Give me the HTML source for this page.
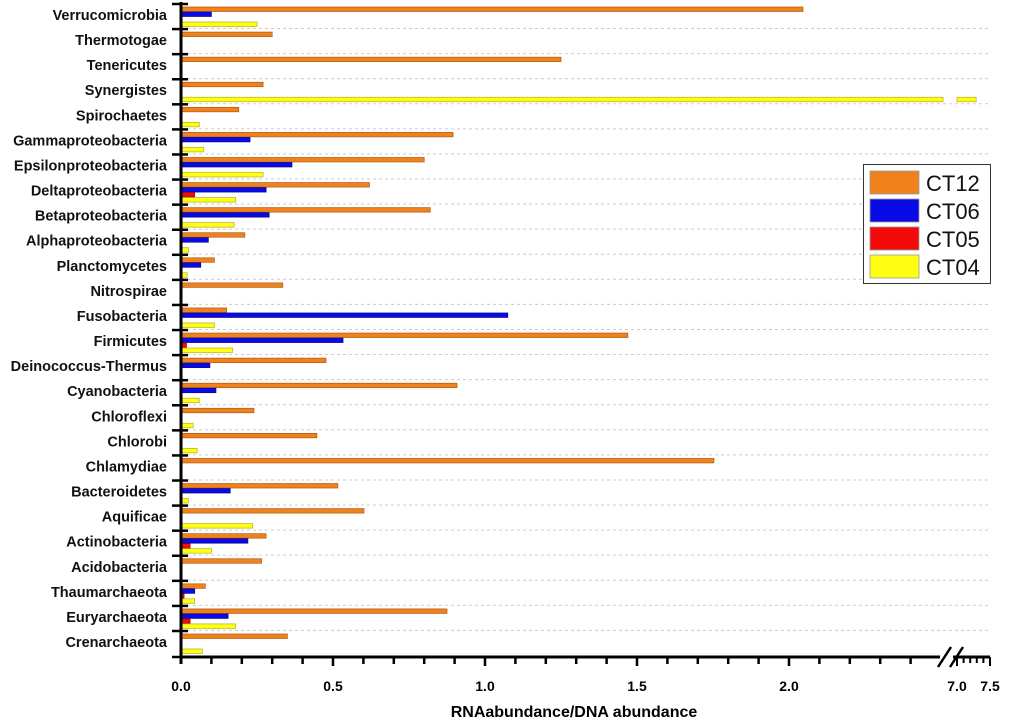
<!DOCTYPE html>
<html><head><meta charset="utf-8"><style>
body{margin:0;background:#fff}
svg{display:block;font-family:"Liberation Sans",Arial,sans-serif}
</style></head><body>
<svg id="c" width="1024" height="724" viewBox="0 0 1024 724"></svg>
<script>
const categories=["Verrucomicrobia","Thermotogae","Tenericutes","Synergistes","Spirochaetes","Gammaproteobacteria","Epsilonproteobacteria","Deltaproteobacteria","Betaproteobacteria","Alphaproteobacteria","Planctomycetes","Nitrospirae","Fusobacteria","Firmicutes","Deinococcus-Thermus","Cyanobacteria","Chloroflexi","Chlorobi","Chlamydiae","Bacteroidetes","Aquificae","Actinobacteria","Acidobacteria","Thaumarchaeota","Euryarchaeota","Crenarchaeota"];
const ct12=[2.046,0.30,1.25,0.27,0.19,0.895,0.80,0.62,0.82,0.21,0.11,0.335,0.15,1.47,0.477,0.908,0.24,0.447,1.753,0.516,0.602,0.28,0.265,0.08,0.875,0.35];
const ct06=[0.10,0,0,0,0,0.227,0.365,0.28,0.29,0.09,0.065,0,1.075,0.533,0.095,0.115,0,0,0,0.162,0,0.22,0,0.045,0.155,0];
const ct05=[0,0,0,0,0,0,0,0.045,0,0,0,0,0,0.018,0,0,0,0,0,0,0,0.03,0,0.01,0.03,0];
const ct04=[0.25,0,0,7.29,0.06,0.075,0.27,0.18,0.175,0.025,0.02,0,0.11,0.17,0,0.06,0.04,0.053,0,0.024,0.236,0.10,0,0.045,0.18,0.07];
const ticks1=["0.0","0.5","1.0","1.5","2.0"];
const ticks2=["7.0","7.5"];
const seriesNames=["CT12","CT06","CT05","CT04"];
const colors=["#f0821e","#0a0ae6","#f50a0a","#ffff14"];
const strokes=["#b05a10","#05058a","#a00505","#b0b020"];

const svg=document.getElementById('c');
const NS="http://www.w3.org/2000/svg";
const X0=181,S1=304,BRK=943,X7=957,S2=66,TOP=4,ROW=25.08,AXY=657;
function x(v){return v<=2.5?X0+v*S1:X7+(v-7)*S2;}
function mk(t,a,p){const e=document.createElementNS(NS,t);for(const k in a)e.setAttribute(k,a[k]);(p||svg).appendChild(e);return e;}
categories.forEach((c,i)=>{
  if(i<categories.length-1){const g=mk('line',{x1:X0,x2:990,y1:TOP+ROW*i+24.5,y2:TOP+ROW*i+24.5,stroke:'#ccc','stroke-dasharray':'3,3','stroke-width':1});
  
  }
});
const series=[ct12,ct06,ct05,ct04];
categories.forEach((c,i)=>{
  const top=TOP+ROW*i;
  const t=mk('text',{x:167,y:top+16,'text-anchor':'end','font-size':14.5,'font-weight':'bold',fill:'#111'});t.textContent=c;
  
  
  series.forEach((s,j)=>{
    const v=s[i]; if(!v) return;
    const y=top+3+j*5;
    if(v>2.5){
      const r1=mk('rect',{x:X0,y:y,width:BRK-X0,height:4.5,fill:colors[j],stroke:strokes[j],'stroke-width':0.7});
      
      
      const r2=mk('rect',{x:X7,y:y,width:x(v)-X7,height:4.5,fill:colors[j],stroke:strokes[j],'stroke-width':0.7});
      
      
    } else {
      const r=mk('rect',{x:X0,y:y,width:x(v)-X0,height:4.5,fill:colors[j],stroke:strokes[j],'stroke-width':0.7});
      
      
    }
  });
  const tk=mk('line',{x1:172,x2:188,y1:top,y2:top,stroke:'#000','stroke-width':2.5});
  
  
});
const ya=mk('line',{x1:X0,x2:X0,y1:TOP-2,y2:AXY+7,stroke:'#000','stroke-width':3});


const bt=mk('line',{x1:172,x2:188,y1:AXY,y2:AXY,stroke:'#000','stroke-width':2.5});


const xa=mk('line',{x1:X0,x2:940,y1:AXY,y2:AXY,stroke:'#000','stroke-width':3});


const xa2=mk('line',{x1:953,x2:990,y1:AXY,y2:AXY,stroke:'#000','stroke-width':3});


for(let k=1;k<=25;k++){const v=k/10;const xx=x(v);if(xx>935)break;
  const m=mk('line',{x1:xx,x2:xx,y1:AXY,y2:AXY+(k%5==0?9:7),stroke:'#000','stroke-width':2.5});
  
  }
for(let k=0;k<=5;k++){const xx=x(7+k/10);
  const m=mk('line',{x1:xx,x2:xx,y1:AXY,y2:AXY+(k%5==0?9:6),stroke:'#000','stroke-width':2});
  
  }
[[938,951],[950,963]].forEach(p=>{const s=mk('line',{x1:p[0],y1:AXY+10,x2:p[1],y2:AXY-10,stroke:'#000','stroke-width':2.5});
  
  });
ticks1.forEach(t=>{const e=mk('text',{x:x(parseFloat(t)),y:691,'text-anchor':'middle','font-size':14,'font-weight':'bold'});e.textContent=t;
  
  });
ticks2.forEach(t=>{const e=mk('text',{x:x(parseFloat(t)),y:691,'text-anchor':'middle','font-size':14,'font-weight':'bold'});e.textContent=t;
  
  });
const xt=mk('text',{x:574,y:717,'text-anchor':'middle','font-size':16,'font-weight':'bold'});xt.textContent="RNAabundance/DNA abundance";


const lg=mk('g',{});


mk('rect',{x:863.5,y:164.5,width:127,height:119,fill:'#fff',stroke:'#333','stroke-width':1},lg);
seriesNames.forEach((n,j)=>{
  const g=mk('g',{},lg);
  
  
  mk('rect',{x:870,y:171+28*j,width:49,height:23,fill:colors[j],stroke:'#999','stroke-width':0.8},g);
  const t=mk('text',{x:926,y:191+28*j,'font-size':22,fill:'#111'},g);t.textContent=n;
});
</script>
</body></html>
